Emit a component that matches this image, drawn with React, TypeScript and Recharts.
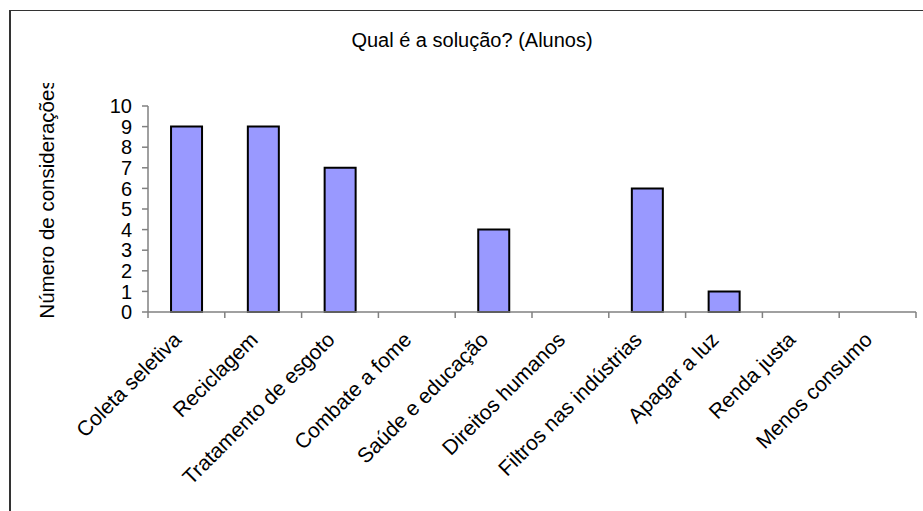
import React from 'react';
import { BarChart, Bar, XAxis, YAxis } from 'recharts';

// values
const CATEGORIES = [
  'Coleta seletiva',
  'Reciclagem',
  'Tratamento de esgoto',
  'Combate a fome',
  'Saúde e educação',
  'Direitos humanos',
  'Filtros nas indústrias',
  'Apagar a luz',
  'Renda justa',
  'Menos consumo',
];
const VALUES = [9, 9, 7, 0, 4, 0, 6, 1, 0, 0];
const Y_TICKS = [0, 1, 2, 3, 4, 5, 6, 7, 8, 9, 10];

const TITLE = 'Qual é a solução? (Alunos)';
const Y_LABEL = 'Número de considerações';

const WIDTH = 923;
const HEIGHT = 511;
const MARGIN = { top: 106, right: 7, bottom: 0, left: 0 };
const PLOT_H = 206;
const Y_AXIS_W = 148;
const X_AXIS_H = HEIGHT - MARGIN.top - MARGIN.bottom - PLOT_H;
const PLOT_W = WIDTH - MARGIN.left - MARGIN.right - Y_AXIS_W;

const FONT = '"Liberation Sans", Arial, sans-serif';
const AXIS_COLOR = '#808080';

const data = CATEGORIES.map((name, i) => ({ name, value: VALUES[i] }));

// category label plus the small boundary ticks between categories
function CategoryTick(props: any) {
  const { x, y, payload, index } = props;
  const step = PLOT_W / CATEGORIES.length;
  const last = index === CATEGORIES.length - 1;
  return (
    <g>
      <line x1={x - step / 2} x2={x - step / 2} y1={y} y2={y + 6} stroke={AXIS_COLOR} strokeWidth={1.5} />
      {last && (
        <line x1={x + step / 2} x2={x + step / 2} y1={y} y2={y + 6} stroke={AXIS_COLOR} strokeWidth={1.5} />
      )}
      <text
        transform={`translate(${x - 4},${y + 29}) rotate(-45)`}
        textAnchor="end"
        fontSize={21}
        fontFamily={FONT}
        fill="#000"
      >
        {payload.value}
      </text>
    </g>
  );
}

export default function App() {
  const labelY = MARGIN.top + PLOT_H / 2 - 10;
  return (
    <div
      style={{
        position: 'absolute',
        left: 0,
        top: 0,
        width: WIDTH,
        height: HEIGHT,
        background: '#fff',
        overflow: 'hidden',
        fontFamily: FONT,
      }}
    >
      <div
        style={{
          position: 'absolute',
          left: 9,
          top: 10,
          width: 1000,
          height: 1000,
          borderTop: '1px solid #333',
          borderLeft: '2px solid #333',
        }}
      />
      <div
        style={{
          position: 'absolute',
          left: 272,
          width: 400,
          top: 29,
          textAlign: 'center',
          fontSize: 20,
          color: '#000',
        }}
      >
        {TITLE}
      </div>
      <div style={{ position: 'absolute', left: 0, top: 0 }}>
        <BarChart width={WIDTH} height={HEIGHT} data={data} margin={MARGIN} barCategoryGap="30%">
          <XAxis
            dataKey="name"
            interval={0}
            height={X_AXIS_H}
            tickLine={false}
            tickSize={0}
            tickMargin={0}
            axisLine={{ stroke: AXIS_COLOR, strokeWidth: 1.5 }}
            tick={<CategoryTick />}
          />
          <YAxis
            width={Y_AXIS_W}
            domain={[0, 10]}
            ticks={Y_TICKS}
            interval={0}
            tickSize={6}
            tickMargin={10}
            axisLine={{ stroke: AXIS_COLOR, strokeWidth: 1.5 }}
            tickLine={{ stroke: AXIS_COLOR, strokeWidth: 1.5 }}
            tick={{ fontSize: 20, fontFamily: FONT, fill: '#000' }}
          />
          <Bar dataKey="value" fill="#9999FF" stroke="#000" strokeWidth={2} isAnimationActive={false} />
        </BarChart>
      </div>
      {/* rotated axis title, cut off at the top like in the original */}
      <svg
        width={Y_AXIS_W}
        height={HEIGHT}
        style={{ position: 'absolute', left: 0, top: 0, pointerEvents: 'none' }}
      >
        <defs>
          <clipPath id="ylabel-clip">
            <rect x={0} y={83} width={Y_AXIS_W} height={HEIGHT} />
          </clipPath>
        </defs>
        <g clipPath="url(#ylabel-clip)">
          <text
            transform={`translate(54,${labelY}) rotate(-90)`}
            textAnchor="middle"
            fontSize={20.5}
            fontFamily={FONT}
            fill="#000"
          >
            {Y_LABEL}
          </text>
        </g>
      </svg>
    </div>
  );
}
